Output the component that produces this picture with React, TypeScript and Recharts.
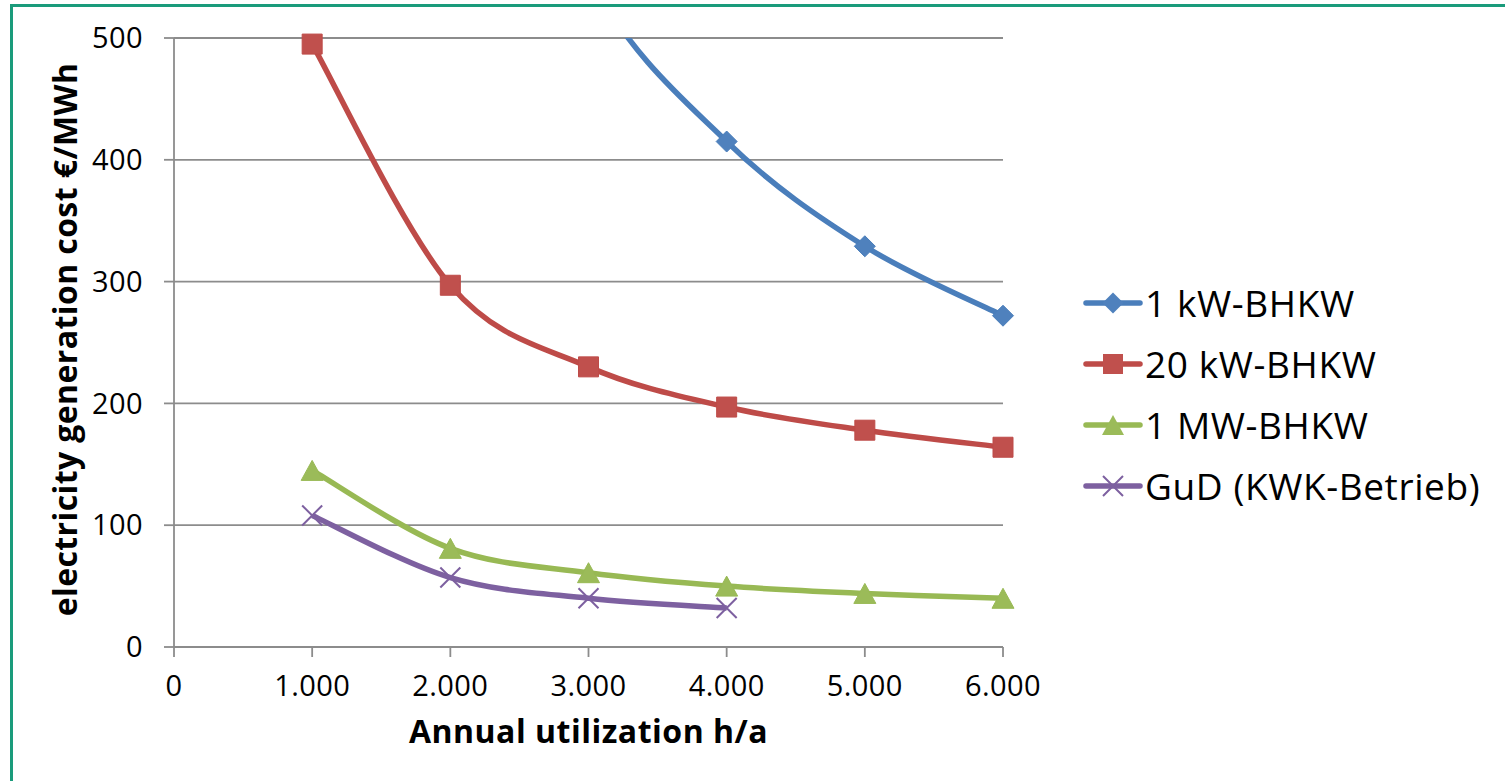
import React from 'react';
import { LineChart, Line, XAxis, YAxis, CartesianGrid, Legend } from 'recharts';

// ---- data ----
const xValues = [1000, 2000, 3000, 4000, 5000, 6000];
const kw1Values = [1640, 820, 550, 415, 329, 272];
const kw20Values = [495, 297, 230, 197, 178, 164];
const mw1Values = [145, 81, 61, 50, 44, 40];
const gudValues: (number | null)[] = [108, 57, 40, 32, null, null];
const seriesNames = ['1 kW-BHKW', '20 kW-BHKW', '1 MW-BHKW', 'GuD (KWK-Betrieb)'];
const xTicks = [0, 1000, 2000, 3000, 4000, 5000, 6000];
const xTickLabels = ['0', '1.000', '2.000', '3.000', '4.000', '5.000', '6.000'];
const yTicks = [0, 100, 200, 300, 400, 500];
const yMax = 500;
const xTitle = 'Annual utilization h/a';
const yTitle = 'electricity generation cost €/MWh';

const data = xValues.map((x, i) => ({
  x,
  kw1: kw1Values[i],
  kw1Visible: kw1Values[i] <= yMax ? kw1Values[i] : null,
  kw20: kw20Values[i],
  mw1: mw1Values[i],
  gud: gudValues[i],
}));

const FONT = "'Open Sans', 'Noto Sans', sans-serif";
const GRID = '#8c8c8c';
const BLUE = '#4A7EBB';
const RED = '#BE4B48';
const GREEN = '#98B954';
const PURPLE = '#7D60A0';
const LW = 5.5;

// Excel-like smoothing (Bezier with 1/6 tangents, clamped)
function excelSmooth(context: any) {
  let pts: number[][] = [];
  const dist = (a: number[], b: number[]) => Math.hypot(b[0] - a[0], b[1] - a[1]);
  const flush = () => {
    const n = pts.length;
    if (!n) return;
    context.moveTo(pts[0][0], pts[0][1]);
    if (n === 2) {
      context.lineTo(pts[1][0], pts[1][1]);
      return;
    }
    for (let i = 0; i < n - 1; i++) {
      const p0 = pts[Math.max(i - 1, 0)];
      const p1 = pts[i];
      const p2 = pts[i + 1];
      const p3 = pts[Math.min(i + 2, n - 1)];
      const d02 = dist(p0, p2);
      const d12 = dist(p1, p2);
      const d13 = dist(p1, p3);
      let f = 1 / 6;
      let g = 1 / 6;
      if (d02 > 0 && d02 / 6 >= d12 / 2) f = d12 / 2 / d02;
      if (d13 > 0 && d13 / 6 >= d12 / 2) g = d12 / 2 / d13;
      context.bezierCurveTo(
        p1[0] + f * (p2[0] - p0[0]),
        p1[1] + f * (p2[1] - p0[1]),
        p2[0] - g * (p3[0] - p1[0]),
        p2[1] - g * (p3[1] - p1[1]),
        p2[0],
        p2[1]
      );
    }
  };
  return {
    areaStart() {},
    areaEnd() {},
    lineStart() {
      pts = [];
    },
    lineEnd() {
      flush();
      pts = [];
    },
    point(x: number, y: number) {
      pts.push([+x, +y]);
    },
  };
}

// ---- markers ----
const diamondPath = (cx: number, cy: number, s: number) =>
  `M${cx},${cy - s}L${cx + s},${cy}L${cx},${cy + s}L${cx - s},${cy}Z`;
const squarePath = (cx: number, cy: number, s: number) =>
  `M${cx - s},${cy - s}H${cx + s}V${cy + s}H${cx - s}Z`;
const trianglePath = (cx: number, cy: number, s: number) =>
  `M${cx},${cy - s}L${cx + s + 1},${cy + s}L${cx - s - 1},${cy + s}Z`;
const crossPath = (cx: number, cy: number, s: number) =>
  `M${cx - s},${cy - s}L${cx + s},${cy + s}M${cx - s},${cy + s}L${cx + s},${cy - s}`;

const valid = (p: any) => p && p.cx != null && p.cy != null && !isNaN(p.cx) && !isNaN(p.cy);

const DiamondDot = (p: any) =>
  valid(p) ? <path key={p.key} d={diamondPath(p.cx, p.cy, 10.5)} fill="#4F81BD" stroke={BLUE} strokeWidth={1} /> : <g key={p?.key} />;
const SquareDot = (p: any) =>
  valid(p) ? <path key={p.key} d={squarePath(p.cx, p.cy, 10)} fill="#C0504D" stroke={RED} strokeWidth={1} /> : <g key={p?.key} />;
const TriangleDot = (p: any) =>
  valid(p) ? <path key={p.key} d={trianglePath(p.cx, p.cy, 10)} fill="#9BBB59" stroke={GREEN} strokeWidth={1} /> : <g key={p?.key} />;
const CrossDot = (p: any) =>
  valid(p) ? <path key={p.key} d={crossPath(p.cx, p.cy, 10)} fill="none" stroke={PURPLE} strokeWidth={2} /> : <g key={p?.key} />;

const legendItems = [
  { name: seriesNames[0], color: BLUE, marker: (cx: number, cy: number) => <path d={diamondPath(cx, cy, 10.5)} fill="#4F81BD" /> },
  { name: seriesNames[1], color: RED, marker: (cx: number, cy: number) => <path d={squarePath(cx, cy, 10)} fill="#C0504D" /> },
  { name: seriesNames[2], color: GREEN, marker: (cx: number, cy: number) => <path d={trianglePath(cx, cy, 10)} fill="#9BBB59" /> },
  { name: seriesNames[3], color: PURPLE, marker: (cx: number, cy: number) => <path d={crossPath(cx, cy, 10)} fill="none" stroke={PURPLE} strokeWidth={2} /> },
];

const renderLegend = () => (
  <div style={{ fontFamily: FONT, fontSize: 37, letterSpacing: 0.6, color: '#000', lineHeight: 1 }}>
    {legendItems.map((it) => (
      <div key={it.name} style={{ display: 'flex', alignItems: 'center', height: 61 }}>
        <svg width={60} height={30} style={{ display: 'block' }}>
          <line x1={3} y1={15} x2={57} y2={15} stroke={it.color} strokeWidth={LW} strokeLinecap="round" />
          {it.marker(30, 15)}
        </svg>
        <span style={{ marginLeft: 2, whiteSpace: 'nowrap' }}>{it.name}</span>
      </div>
    ))}
  </div>
);

const XTitle = (p: any) => {
  const vb = p.viewBox;
  return (
    <text x={vb.x + vb.width / 2} y={vb.y + 96} textAnchor="middle" fontFamily={FONT} fontWeight={700} fontSize={32} letterSpacing={0.5} fill="#000">
      {xTitle}
    </text>
  );
};

const YTitle = (p: any) => {
  const vb = p.viewBox;
  const cx = 77;
  const cy = vb.y + vb.height / 2 - 3;
  return (
    <text x={cx} y={cy} transform={`rotate(-90, ${cx}, ${cy})`} textAnchor="middle" fontFamily={FONT} fontWeight={700} fontSize={32} letterSpacing={0.4} fill="#000">
      {yTitle}
    </text>
  );
};

export default function App() {
  return (
    <div style={{ position: 'absolute', left: 0, top: 0, width: 1505, height: 781, background: '#fff', overflow: 'hidden' }}>
      <div
        style={{
          position: 'absolute',
          left: 10,
          top: 4,
          right: 0,
          bottom: 0,
          borderTop: '3px solid #1a9b7b',
          borderLeft: '3px solid #1a9b7b',
        }}
      />
      <div style={{ position: 'absolute', left: 0, top: 0 }}>
        <LineChart width={1505} height={781} data={data} margin={{ top: 38, right: 502, bottom: 94, left: 114 }}>
          <CartesianGrid vertical={false} horizontal stroke={GRID} strokeWidth={1.8} />
          <XAxis
            dataKey="x"
            type="number"
            domain={[0, 6000]}
            ticks={xTicks}
            interval={0}
            tickFormatter={(v: number) => xTickLabels[xTicks.indexOf(v)]}
            height={40}
            tickSize={10}
            tickMargin={18}
            axisLine={{ stroke: GRID, strokeWidth: 1.8 }}
            tickLine={{ stroke: GRID, strokeWidth: 1.8 }}
            tick={{ fill: '#000', fontSize: 29, fontFamily: FONT, letterSpacing: 0.4 }}
            label={{ content: XTitle }}
          />
          <YAxis
            domain={[0, yMax]}
            ticks={yTicks}
            interval={0}
            width={60}
            tickSize={10}
            tickMargin={21}
            axisLine={{ stroke: GRID, strokeWidth: 1.8 }}
            tickLine={{ stroke: GRID, strokeWidth: 1.8 }}
            tick={{ fill: '#000', fontSize: 29, fontFamily: FONT, letterSpacing: 0.4 }}
            label={{ content: YTitle }}
          />
          <YAxis yAxisId="clip" hide domain={[0, yMax]} allowDataOverflow />
          <Legend
            layout="vertical"
            align="center"
            verticalAlign="middle"
            content={renderLegend}
            wrapperStyle={{ position: 'absolute', left: 1083, top: 272, width: 420 }}
          />
          <Line yAxisId="clip" dataKey="kw1" type={excelSmooth as any} stroke={BLUE} strokeWidth={LW} dot={false} activeDot={false} isAnimationActive={false} legendType="none" />
          <Line dataKey="kw1Visible" type="linear" stroke="none" strokeWidth={0} dot={DiamondDot} activeDot={false} isAnimationActive={false} legendType="none" />
          <Line dataKey="kw20" type={excelSmooth as any} stroke={RED} strokeWidth={LW} dot={SquareDot} activeDot={false} isAnimationActive={false} />
          <Line dataKey="mw1" type={excelSmooth as any} stroke={GREEN} strokeWidth={LW} dot={TriangleDot} activeDot={false} isAnimationActive={false} />
          <Line dataKey="gud" type={excelSmooth as any} stroke={PURPLE} strokeWidth={LW} dot={CrossDot} activeDot={false} isAnimationActive={false} />
        </LineChart>
      </div>
    </div>
  );
}
